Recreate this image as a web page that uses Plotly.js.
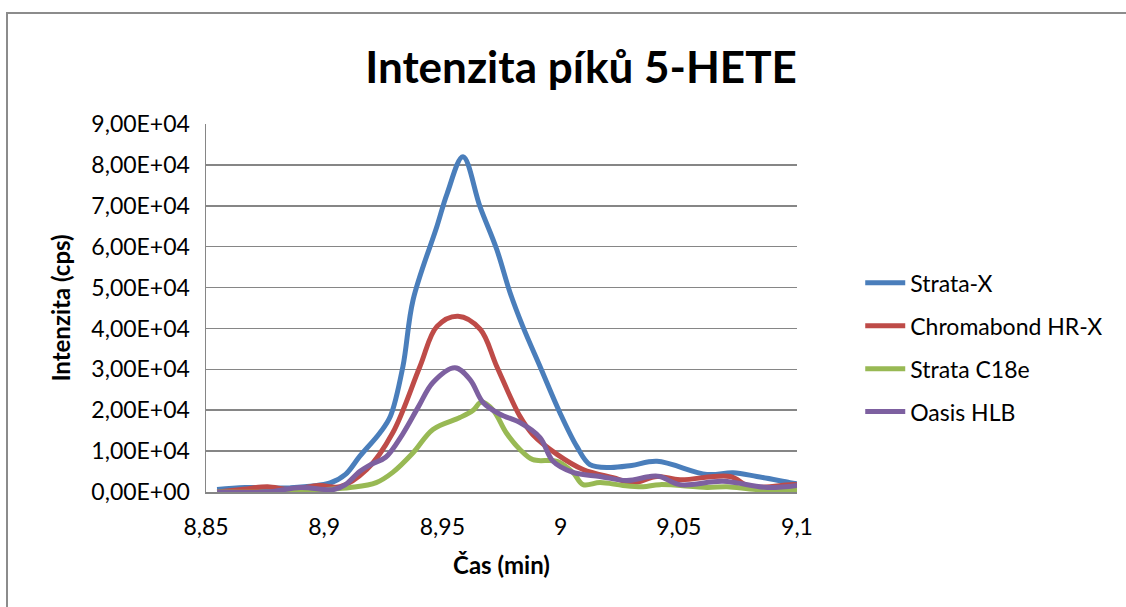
<!DOCTYPE html>
<html>
<head>
<meta charset="utf-8">
<script src="https://cdn.plot.ly/plotly-3.0.1.min.js"></script>
<style>
html,body{margin:0;padding:0;background:#fff;}
#frame{position:absolute;left:6px;top:12px;width:1200px;height:700px;border:2px solid #8c8c8c;box-sizing:border-box;}
#chart{position:absolute;left:0;top:0;width:1126px;height:607px;}
</style>
</head>
<body>
<div id="frame"></div>
<div id="chart"></div>
<script>
const seriesNames = ["Strata-X", "Chromabond HR-X", "Strata C18e", "Oasis HLB"];
const seriesColors = ["#4A7EBB", "#BE4B48", "#98B954", "#7D60A0"];

const strataX_t = [8.8547, 8.8665, 8.8855, 8.9025, 8.909, 8.915, 8.9236, 8.928, 8.9333, 8.9376, 8.9477, 8.952, 8.9587, 8.9659, 8.973, 8.9786, 8.984, 8.9913, 8.9997, 9.0069, 9.0124, 9.0209, 9.0300, 9.0408, 9.0619, 9.073, 9.083, 9.097, 9.1];
const strataX_y = [600, 1100, 1000, 2200, 4300, 8700, 14500, 18500, 30700, 47000, 65000, 73000, 82000, 69800, 59300, 48800, 40500, 30700, 19400, 11100, 6700, 6000, 6500, 7500, 4300, 4700, 3800, 2300, 2000];

const chromabond_t = [8.8547, 8.866, 8.876, 8.8855, 8.898, 8.9067, 8.918, 8.929, 8.9405, 8.9477, 8.9566, 8.966, 8.973, 8.9828, 8.9883, 8.9985, 9.0095, 9.0222, 9.0306, 9.0408, 9.0505, 9.0717, 9.0802, 9.097, 9.1];
const chromabond_y = [0, 700, 1300, 600, 1600, 1300, 5500, 14500, 30700, 40500, 43000, 39800, 30700, 18500, 14000, 9200, 5500, 3500, 2300, 3800, 3000, 3800, 1300, 1800, 1800];

const c18e_t = [8.8547, 8.88, 8.9, 8.911, 8.922, 8.929, 8.9376, 8.946, 8.9574, 8.963, 8.9665, 8.9715, 8.977, 8.9828, 8.9883, 8.9985, 9.0052, 9.0095, 9.0167, 9.0264, 9.0349, 9.042, 9.062, 9.0704, 9.083, 9.1];
const c18e_y = [0, 0, 600, 1100, 2300, 4800, 9600, 15300, 18200, 20000, 22000, 20000, 14500, 10400, 7900, 7500, 4800, 1800, 2300, 1600, 1300, 1800, 1100, 1300, 600, 600];

const oasis_t = [8.8547, 8.876, 8.89, 8.904, 8.909, 8.915, 8.92, 8.926, 8.933, 8.94, 8.946, 8.9553, 8.9617, 8.9672, 8.9744, 8.9828, 8.9913, 8.9968, 9.0052, 9.0167, 9.028, 9.0378, 9.042, 9.0505, 9.0687, 9.0873, 9.1];
const oasis_y = [0, 0, 1100, 600, 1800, 5000, 6800, 8500, 14000, 21000, 26800, 30400, 27500, 21900, 19000, 17000, 13300, 7500, 4800, 3800, 2800, 3800, 3800, 1800, 2600, 1100, 1600];

const xTickVals = [8.85, 8.9, 8.95, 9, 9.05, 9.1];
const xTickText = ["8,85", "8,9", "8,95", "9", "9,05", "9,1"];
const yTickVals = [0, 10000, 20000, 30000, 40000, 50000, 60000, 70000, 80000, 90000];
const yTickText = ["0,00E+00", "1,00E+04", "2,00E+04", "3,00E+04", "4,00E+04", "5,00E+04", "6,00E+04", "7,00E+04", "8,00E+04", "9,00E+04"];

const xs = [strataX_t, chromabond_t, c18e_t, oasis_t];
const ys = [strataX_y, chromabond_y, c18e_y, oasis_y];

const traces = seriesNames.map((n, i) => ({
  type: "scatter", mode: "lines", name: n,
  x: xs[i], y: ys[i],
  line: {color: seriesColors[i], width: 5, shape: "spline", smoothing: 1},
  legendgroup: "g" + i
}));

const font = "Lato, 'Open Sans', sans-serif";
const layout = {
  width: 1126, height: 607,
  paper_bgcolor: "rgba(0,0,0,0)", plot_bgcolor: "rgba(0,0,0,0)",
  margin: {l: 206, r: 329, t: 124, b: 115, pad: 0},
  font: {family: font, color: "#000", size: 22},
  title: {text: "<b>Intenzita píků 5-HETE</b>", font: {family: font, size: 44, color: "#000"}, x: 0.516, xanchor: "center", y: 0.888, yanchor: "middle"},
  showlegend: true,
  legend: {x: 1.107, xanchor: "left", y: 0.393, yanchor: "middle", font: {family: font, size: 23}, traceorder: "grouped", tracegroupgap: 10, itemwidth: 40, bgcolor: "rgba(0,0,0,0)"},
  xaxis: {
    range: [8.85, 9.1], tickvals: xTickVals, ticktext: xTickText,
    showgrid: false, zeroline: false, showline: true, linecolor: "#868686", linewidth: 1.5,
    ticks: "", tickfont: {family: font, size: 23}, ticklabelstandoff: 14,
    title: {text: "<b>Čas (min)</b>", font: {family: font, size: 24}, standoff: 18}
  },
  yaxis: {
    range: [0, 90000], tickvals: yTickVals, ticktext: yTickText,
    showgrid: true, gridcolor: "#868686", gridwidth: 1.5,
    zeroline: false, showline: true, linecolor: "#868686", linewidth: 1.5,
    ticks: "", tickfont: {family: font, size: 23}, ticklabelstandoff: 10,
    title: {text: "<b>Intenzita (cps)</b>", font: {family: font, size: 24}, standoff: 14}
  }
};

Plotly.newPlot("chart", traces, layout, {displayModeBar: false, staticPlot: true});
</script>
</body>
</html>
